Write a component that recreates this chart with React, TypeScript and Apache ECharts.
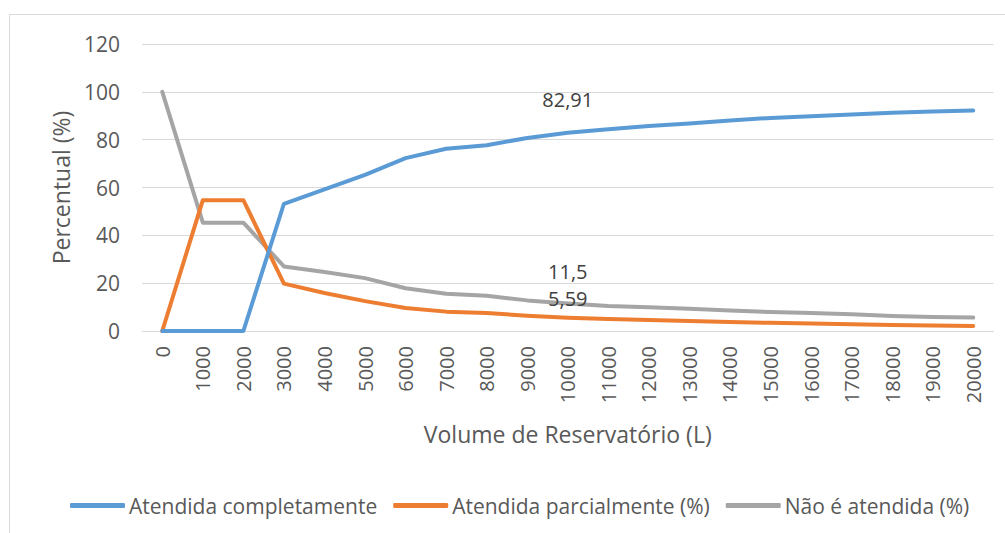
import React, { useEffect, useRef } from "react";
import * as echarts from "echarts";

const categories = ["0","1000","2000","3000","4000","5000","6000","7000","8000","9000","10000","11000","12000","13000","14000","15000","16000","17000","18000","19000","20000"];
const completa = [0,0,0,53.2,59.2,65.3,72.3,76.2,77.7,80.7,82.91,84.4,85.7,86.8,88,89.1,89.8,90.5,91.3,91.8,92.2];
const parcial = [0,54.7,54.7,19.8,15.9,12.5,9.6,8.1,7.5,6.4,5.59,5.0,4.6,4.2,3.8,3.4,3.1,2.8,2.5,2.3,2.1];
const naoAtendida = [100,45.3,45.3,27,24.7,22.1,17.9,15.6,14.7,12.8,11.5,10.5,9.9,9.3,8.6,7.9,7.5,7.0,6.3,5.9,5.6];
const labelIndex = 10;
const labelOffsets = [-18, -4.5, -16.5];
const seriesNames = ["Atendida completamente", "Atendida parcialmente (%)", "Não é atendida (%)"];
const colors = ["#5B9BD5", "#ED7D31", "#A5A5A5"];

const FONT = "'Open Sans', sans-serif";

export default function App() {
  const ref = useRef<HTMLDivElement>(null);
  useEffect(() => {
    if (!ref.current) return;
    const chart = echarts.init(ref.current, undefined, { renderer: "svg" });
    const allData = [completa, parcial, naoAtendida];
    chart.setOption({
      animation: false,
      textStyle: { fontFamily: FONT },
      graphic: [
        {
          type: "rect",
          shape: { x: 9.5, y: 14.5, width: 1010, height: 530 },
          style: { fill: "none", stroke: "#d9d9d9", lineWidth: 1 },
          silent: true,
        },
      ],
      grid: { left: 142, right: 11.5, top: 44, bottom: 202, containLabel: false },
      legend: {
        bottom: 17,
        left: 70,
        padding: 0,
        itemWidth: 55,
        itemHeight: 5,
        itemGap: 16,
        icon: "roundRect",
        textStyle: { fontSize: 21, color: "#595959", fontFamily: FONT, padding: [0, 0, 0, -1] },
        data: seriesNames,
      },
      xAxis: {
        type: "category",
        data: categories,
        boundaryGap: true,
        name: "Volume de Reservatório (L)",
        nameLocation: "middle",
        nameGap: 91,
        nameTextStyle: { fontSize: 23, color: "#595959", fontFamily: FONT },
        axisLine: { lineStyle: { color: "#d9d9d9", width: 1 } },
        axisTick: { show: false },
        axisLabel: { rotate: 90, fontSize: 20, color: "#595959", margin: 15, interval: 0, fontFamily: FONT },
      },
      yAxis: {
        type: "value",
        min: 0,
        max: 120,
        interval: 20,
        name: "Percentual (%)",
        nameLocation: "middle",
        nameGap: 70,
        nameTextStyle: { fontSize: 23, color: "#595959", fontFamily: FONT },
        axisLabel: { fontSize: 21, color: "#595959", margin: 22, fontFamily: FONT },
        splitLine: { lineStyle: { color: "#d9d9d9", width: 1 } },
        axisLine: { show: false },
        axisTick: { show: false },
      },
      series: allData.map((d, si) => ({
        name: seriesNames[si],
        type: "line",
        symbol: "circle",
        symbolSize: 0,
        showSymbol: true,
        lineStyle: { color: colors[si], width: 4, cap: "round", join: "round" },
        itemStyle: { color: colors[si] },
        z: si === 0 ? 4 : si === 1 ? 3 : 2,
        data: d.map((v, i) =>
          i === labelIndex
            ? {
                value: v,
                label: {
                  show: true,
                  position: "top",
                  offset: [0, labelOffsets[si]],
                  fontSize: 20,
                  color: "#404040",
                  fontFamily: FONT,
                  formatter: (p: any) => String(p.value).replace(".", ","),
                },
              }
            : v
        ),
      })),
    });
    return () => chart.dispose();
  }, []);
  return (
    <div
      ref={ref}
      style={{ position: "fixed", left: 0, top: 0, width: 1005, height: 533, background: "#fff" }}
    />
  );
}
